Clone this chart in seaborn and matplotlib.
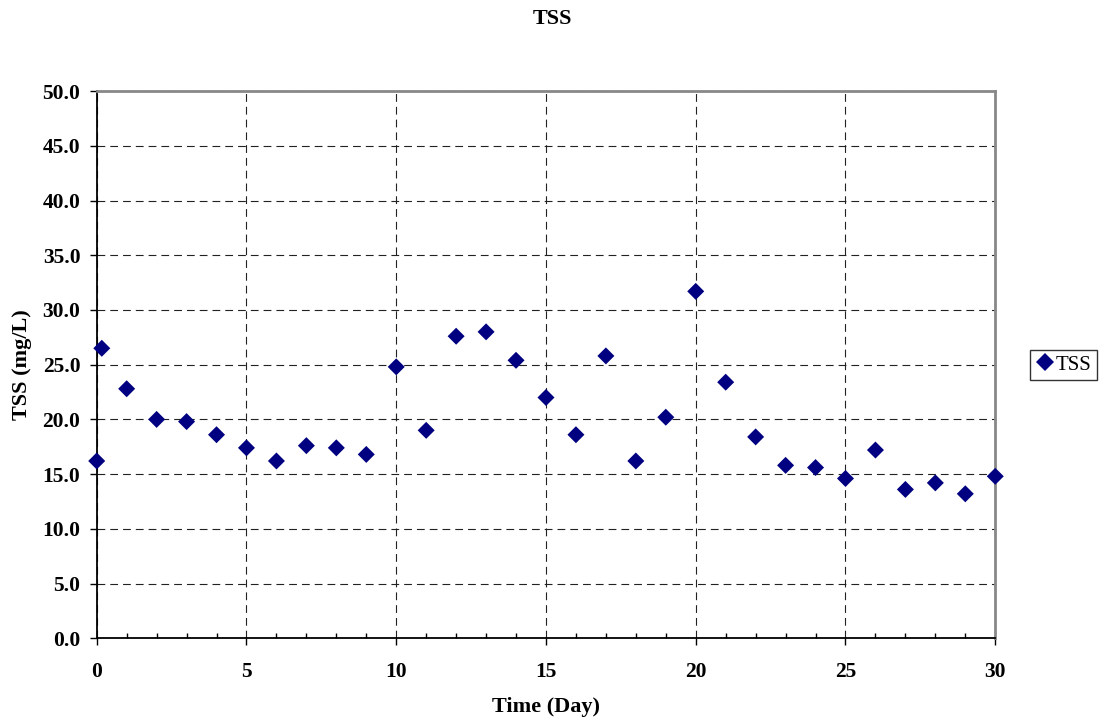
import matplotlib
matplotlib.use("Agg")
import matplotlib.pyplot as plt
import seaborn as sns
import pandas as pd
from matplotlib.ticker import MultipleLocator, FormatStrFormatter

days = [0.0, 0.17, 1, 2, 3, 4, 5, 6, 7, 8, 9, 10, 11, 12, 13, 14, 15, 16, 17, 18, 19,
        20, 21, 22, 23, 24, 25, 26, 27, 28, 29, 30]
tss = [16.2, 26.5, 22.8, 20.0, 19.8, 18.6, 17.4, 16.2, 17.6, 17.4, 16.8, 24.8, 19.0, 27.6,
       28.0, 25.4, 22.0, 18.6, 25.8, 16.2, 20.2, 31.7, 23.4, 18.4, 15.8, 15.6, 14.6, 17.2,
       13.6, 14.2, 13.2, 14.8]

df = pd.DataFrame({"Time (Day)": days, "TSS": tss, "series": "TSS"})

sns.set_theme(style="white")
plt.rcParams['font.family'] = ['Liberation Serif', 'DejaVu Serif']
plt.rcParams['text.color'] = 'black'

fig = plt.figure(figsize=(11.04, 7.23), dpi=100)
ax = fig.add_axes([0.0876, 0.1172, 0.8139, 0.7568])

sns.scatterplot(data=df, x="Time (Day)", y="TSS", hue="series", palette=["#000080"],
                marker="D", s=75, linewidth=0, ax=ax, zorder=3, clip_on=False)

ax.set_xlim(0, 30)
ax.set_ylim(0, 50)
ax.xaxis.set_major_locator(MultipleLocator(5))
ax.xaxis.set_minor_locator(MultipleLocator(1))
ax.yaxis.set_major_locator(MultipleLocator(5))
ax.yaxis.set_major_formatter(FormatStrFormatter("%.1f"))

ax.grid(True, which="major", color="#222222", linestyle=(0, (7, 4.5)), linewidth=0.8)
ax.set_axisbelow(True)

for side in ["left", "bottom"]:
    ax.spines[side].set_color("black")
    ax.spines[side].set_linewidth(1.3)
for side in ["top", "right"]:
    ax.spines[side].set_color("#888888")
    ax.spines[side].set_linewidth(2.0)
    ax.spines[side].set_visible(True)

ax.tick_params(axis="x", which="major", direction="out", length=4.8, width=1.0,
               color="black", pad=12, labelsize=15.5, bottom=True, labelcolor="black")
ax.tick_params(axis="x", which="minor", direction="in", length=3.6, width=1.0,
               color="black", bottom=True)
ax.tick_params(axis="y", which="major", direction="out", length=4.8, width=1.0,
               color="black", pad=7, labelsize=15.5, left=True, labelcolor="black")
for lab in ax.get_xticklabels() + ax.get_yticklabels():
    lab.set_fontweight("bold")

ax.set_xlabel("Time (Day)", fontsize=16, fontweight="bold", color="black")
ax.set_ylabel("TSS (mg/L)", fontsize=16, fontweight="bold", color="black")
ax.xaxis.set_label_coords(0.5, -0.108)
ax.yaxis.set_label_coords(-0.072, 0.5)
fig.suptitle("TSS", x=0.5, y=0.988, fontsize=16, fontweight="bold", color="black")

leg = ax.legend(loc="center left", bbox_to_anchor=(0.933, 0.4955),
                bbox_transform=fig.transFigure, frameon=True, fancybox=False,
                prop={"family": "Liberation Serif", "size": 15}, handletextpad=0.1,
                borderpad=0.25, handlelength=0.9, borderaxespad=0)
leg.get_frame().set_edgecolor("black")
leg.get_frame().set_linewidth(1.0)
for t in leg.get_texts():
    t.set_color("black")
for h in leg.legend_handles:
    try:
        h.set_markersize(8.7)
    except AttributeError:
        h.set_sizes([75])

fig.savefig("out.png", dpi=100)
